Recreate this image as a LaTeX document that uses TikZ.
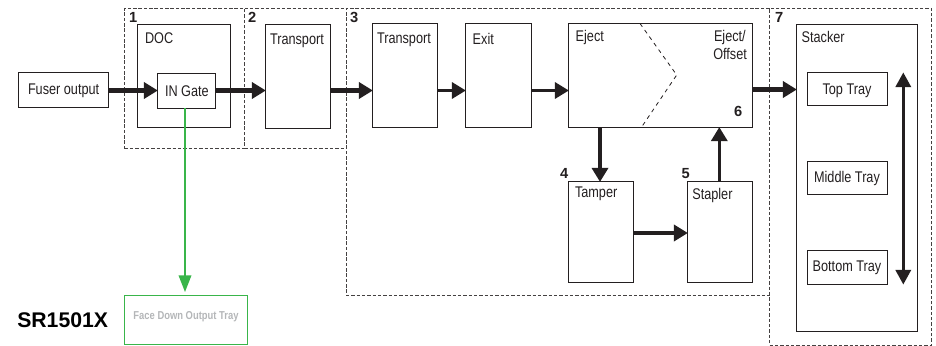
\documentclass[tikz,border=0pt]{standalone}
\usepackage{fontspec}
\setmainfont[FakeStretch=0.82]{Liberation Sans}
\newfontfamily\hvy{Liberation Sans}
\usetikzlibrary{arrows.meta,fit,calc}
\definecolor{lineblack}{HTML}{231F20}
\definecolor{flowgreen}{HTML}{39B54A}
\definecolor{paleText}{HTML}{B4B6B8}
\tikzset{
  px/.style={x=0.75pt,y=-0.75pt},
  boxnode/.style={draw=lineblack,line width=0.75pt,inner sep=0pt,outer sep=0pt,fill=none},
  regionnode/.style={inner sep=0pt,outer sep=0pt},
  regionline/.style={draw=lineblack!85,line width=0.7pt,dash pattern=on 2.6pt off 1.4pt},
  txt/.style={inner sep=0pt,outer sep=0pt,anchor=base west,font=\fontsize{11.6pt}{13pt}\selectfont,text=lineblack},
  ctxt/.style={txt,anchor=base},
  num/.style={inner sep=0pt,outer sep=0pt,anchor=base west,font=\hvy\bfseries\fontsize{11pt}{13pt}\selectfont,text=lineblack},
  flow/.style={draw=lineblack,line width=3.1pt,-{Triangle[length=10.5pt,width=12pt]},shorten >=-0.3pt},
  flowthin/.style={flow,line width=2.5pt},
  flowwide/.style={flow,line width=3.7pt},
  tray/.style={draw=lineblack,line width=2pt,{Triangle[length=11pt,width=11.5pt]}-{Triangle[length=11pt,width=11.5pt]}},
  bypass/.style={color=flowgreen,line width=1.1pt,-{Triangle[length=12.5pt,width=9.5pt]}},
}
\begin{document}
\begin{tikzpicture}[px]
\useasboundingbox (0,0) rectangle (936,346);
% regions
\node[regionnode,regionline,fit={(124.5,8.5) (244.5,148.5)}] (r1) {};
\node[regionnode,fit={(244.5,8.5) (346.5,148.5)}] (r2) {};
\node[regionnode,fit={(346.5,8.5) (769.5,295.5)}] (r3) {};
\node[regionnode,regionline,fit={(769.5,8.5) (931.5,345)}] (r7) {};
\draw[regionline] (r2.north west) -- (r2.north east);
\draw[regionline] (r2.south west) -- (r2.south east);
\draw[regionline] (r3.north east) -- (r3.north west) -- (r3.south west) -- (r3.south east);
% boxes
\node[boxnode,fit={(18.5,72.5) (108.5,107.5)}] (fuser) {};
\node[boxnode,fit={(137.5,24.5) (230.5,127.5)}] (doc) {};
\node[boxnode,fit={(157.5,73.5) (215.5,108.5)}] (gate) {};
\node[boxnode,fit={(265.5,24.5) (330.5,128.5)}] (t1) {};
\node[boxnode,fit={(372.5,23.5) (437.5,127.5)}] (t2) {};
\node[boxnode,fit={(465.5,23.5) (531.5,127.5)}] (exit) {};
\node[boxnode,fit={(568.5,23.5) (752.5,127.5)}] (eject) {};
\node[boxnode,fit={(568.5,181.5) (633.5,282.5)}] (tamper) {};
\node[boxnode,fit={(687.5,181.5) (752.5,282.5)}] (stapler) {};
\node[boxnode,fit={(796.5,24.5) (917.5,331.5)}] (stacker) {};
\node[boxnode,fit={(807.5,72.5) (887.5,105.5)}] (top) {};
\node[boxnode,fit={(807.5,161.5) (887.5,194.5)}] (mid) {};
\node[boxnode,fit={(807.5,250.5) (887.5,284.5)}] (bot) {};
\node[draw=flowgreen,line width=0.9pt,inner sep=0pt,outer sep=0pt,fit={(124.5,295.5) (247.5,344.5)}] (face) {};
% eject divider
\coordinate (chevA) at (640,23.5);
\coordinate (chevB) at (676.7,75);
\coordinate (chevC) at (642.3,126);
\draw[lineblack,line width=0.6pt,dash pattern=on 3pt off 3pt] (chevA) -- (chevB) -- (chevC);
% text
\node[txt] (tdoc) at (145,44) {DOC};
\node[txt] (tt1) at (270,45) {Transport};
\node[txt] (tt2) at (377,43.5) {Transport};
\node[txt] (texit) at (472.7,45) {Exit};
\node[txt] (tej) at (575.7,41.7) {Eject};
\node[txt] (tej2) at (714,41.7) {Eject/};
\node[txt] (toff) at (713.3,60) {Offset};
\node[txt] (tfu) at (28,94) {Fuser output};
\node[txt] (tgate) at (165,96.7) {IN Gate};
\node[txt] (ttam) at (575,197.7) {Tamper};
\node[txt] (tsta) at (692.3,199) {Stapler};
\node[txt] (tsk) at (801.7,42.7) {Stacker};
\node[ctxt] (ttop) at (847,94) {Top Tray};
\node[ctxt] (tmid) at (847,182.3) {Middle Tray};
\node[ctxt] (tbot) at (847,271) {Bottom Tray};
\node[inner sep=0pt,anchor=base,text=paleText,font=\fontsize{8.6pt}{11pt}\selectfont\bfseries] (tface) at (186,319.3) {Face Down Output Tray};
\node[inner sep=0pt,anchor=base west,font=\hvy\bfseries\fontsize{15.9pt}{18pt}\selectfont] (model) at (17,327.3) {SR1501X};
\node[num] (n1) at (129,22.7) {1};
\node[num] (n2) at (248,22.7) {2};
\node[num] (n3) at (350,22.7) {3};
\node[num] (n7) at (775,22.7) {7};
\node[num] (n6) at (734,116.7) {6};
\node[num] (n4) at (560,178) {4};
\node[num] (n5) at (681.7,178) {5};
% connectors
\coordinate (ya) at (0,90.5);
\coordinate (yb) at (0,89.5);
\coordinate (xa) at (600,0);
\coordinate (xb) at (719.3,0);
\coordinate (yc) at (0,233);
\coordinate (xc) at (903.3,0);
\coordinate (trayTop) at (xc |- top.north);
\coordinate (trayBot) at (xc |- bot.south);
\draw[flow] (fuser.east |- ya) -- (gate.west |- ya);
\draw[flow] (gate.east |- ya) -- (t1.west |- ya);
\draw[flow] (t1.east |- ya) -- (t2.west |- ya);
\draw[flowthin] (t2.east |- ya) -- (exit.west |- ya);
\draw[flowthin] (exit.east |- ya) -- (eject.west |- ya);
\draw[flowwide] (eject.east |- yb) -- (stacker.west |- yb);
\draw[flowthin] (xa |- eject.south) -- (xa |- tamper.north);
\draw[flowthin] (xb |- stapler.north) -- (xb |- eject.south);
\draw[flowwide] (tamper.east |- yc) -- (stapler.west |- yc);
\draw[tray] (trayTop) -- (trayBot);
\coordinate (xg) at (185,0);
\draw[bypass] (xg |- gate.south) -- ($(xg |- face.north)+(0,-3.5)$);
\end{tikzpicture}
\end{document}
